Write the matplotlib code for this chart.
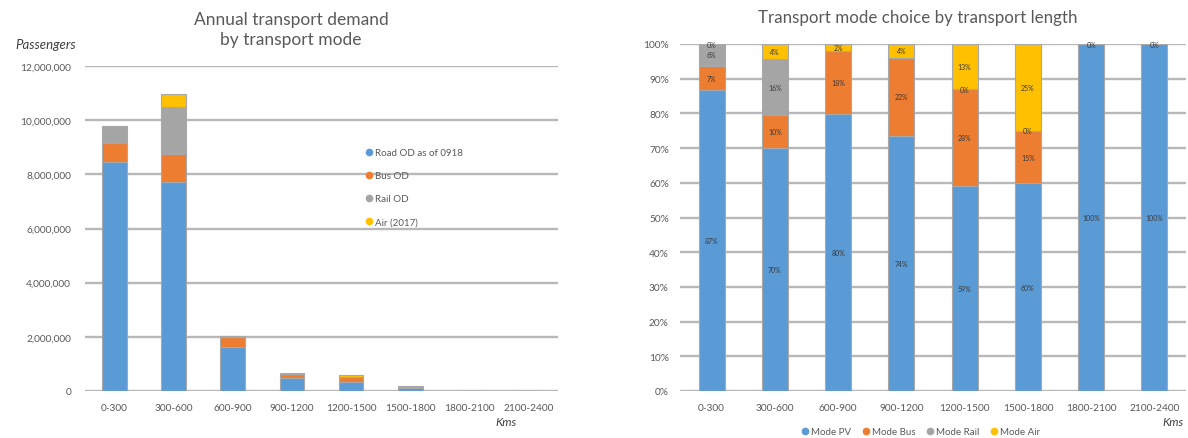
import matplotlib
matplotlib.use("Agg")
import matplotlib.pyplot as plt
from matplotlib.lines import Line2D
from matplotlib.ticker import FuncFormatter, MultipleLocator
import numpy as np

plt.rcParams['font.family'] = ['Lato', 'DejaVu Sans']

# Distance bands (km)
bands = ["0-300", "300-600", "600-900", "900-1200", "1200-1500",
         "1500-1800", "1800-2100", "2100-2400"]

# Annual passengers per mode
road_od = [8450000, 7700000, 1620000, 485000, 350000, 120000, 10000, 5000]
bus_od = [720000, 1050000, 380000, 145000, 165000, 30000, 0, 0]
rail_od = [620000, 1730000, 10000, 3000, 0, 2000, 0, 0]
air_od = [0, 470000, 30000, 27000, 78000, 50000, 0, 0]

# Mode share (%) per distance band
mode_pv = [86.7, 70.0, 79.8, 73.5, 59.0, 59.8, 100.0, 100.0]
mode_bus = [7.0, 9.5, 18.2, 22.5, 28.0, 15.2, 0.0, 0.0]
mode_rail = [6.3, 16.2, 0.0, 0.0, 0.0, 0.0, 0.0, 0.0]
mode_air = [0.0, 4.3, 2.0, 4.0, 13.0, 25.0, 0.0, 0.0]

BLUE, ORANGE, GREY, GOLD = "#5B9BD5", "#ED7D31", "#A5A5A5", "#FFC000"
GRID = "#b8b8b8"
TXT = "#595959"
EDGE = "#a8a8a8"

W, H = 1188, 439
fig = plt.figure(figsize=(W / 100, H / 100), dpi=100)


def px_axes(x0, y0, x1, y1):
    return fig.add_axes([x0 / W, 1 - y1 / H, (x1 - x0) / W, (y1 - y0) / H])


def style(ax):
    for s in ax.spines.values():
        s.set_visible(False)
    ax.tick_params(length=0, colors=TXT, labelsize=7.3)
    ax.yaxis.grid(True, color=GRID, lw=1.7)
    ax.set_axisbelow(True)
    ax.set_xlim(-0.5, len(bands) - 0.5)


x = np.arange(len(bands))

# ---- Left: absolute demand ----
axL = px_axes(85, 67, 558, 392)
style(axL)
series_L = [(road_od, BLUE, "Road OD as of 0918"), (bus_od, ORANGE, "Bus OD"),
            (rail_od, GREY, "Rail OD"), (air_od, GOLD, "Air (2017)")]
bottom = np.zeros(len(bands))
for vals, col, lab in series_L:
    v = np.array(vals, dtype=float)
    axL.bar(x, v, 0.42, bottom=bottom, color=col, edgecolor=EDGE, linewidth=0.8, label=lab)
    bottom += v
axL.set_ylim(0, 12000000)
axL.yaxis.set_major_locator(MultipleLocator(2000000))
axL.yaxis.set_major_formatter(FuncFormatter(lambda v, p: f"{int(v):,}"))
axL.set_xticks(x, bands)
axL.tick_params(axis="y", pad=10)
axL.tick_params(axis="x", pad=9)
fig.text(291 / W, 1 - 30 / H, "Annual transport demand\nby transport mode",
         ha="center", va="center", fontsize=12.5, color=TXT, linespacing=1.25)
fig.text(46 / W, 1 - 45 / H, "Passengers", ha="center", va="center",
         fontsize=9.5, style="italic", color="#404040")
fig.text(506 / W, 1 - 423 / H, "Kms", ha="center", va="center",
         fontsize=8.5, style="italic", color="#404040")

handlesL = [Line2D([], [], ls="none", marker="o", ms=4.5, mfc=c, mec=c) for _, c, _ in series_L]
fig.legend(handlesL, [s[2] for s in series_L], loc="upper left",
           bbox_to_anchor=(366 / W, 1 - 149 / H), frameon=False, fontsize=7,
           labelcolor=TXT, handlelength=0.6, handletextpad=0.3, labelspacing=1.45,
           borderaxespad=0, borderpad=0)

# ---- Right: mode share ----
axR = px_axes(680, 45, 1186, 392)
style(axR)
series_R = [(mode_pv, BLUE, "Mode PV"), (mode_bus, ORANGE, "Mode Bus"),
            (mode_rail, GREY, "Mode Rail"), (mode_air, GOLD, "Mode Air")]
bottom = np.zeros(len(bands))
labels = [[] for _ in bands]  # (y, value) per bar
for vals, col, lab in series_R:
    v = np.array(vals, dtype=float)
    axR.bar(x, v, 0.41, bottom=bottom, color=col, edgecolor=EDGE, linewidth=0.8, label=lab)
    for i, (b, val) in enumerate(zip(bottom, v)):
        labels[i].append((b + val / 2, val))
    bottom += v

# Data labels; empty segments are only labelled where they do not collide
for i, items in enumerate(labels):
    placed = [y for y, val in items if val > 0]
    for y, val in items:
        if val == 0:
            if any(abs(y - p) < 2.5 for p in placed):
                continue
            placed.append(y)
        axR.text(x[i], y, f"{val:.0f}%", ha="center", va="center",
                 fontsize=5, color="#3a3a3a")

axR.set_ylim(0, 100)
axR.yaxis.set_major_locator(MultipleLocator(10))
axR.yaxis.set_major_formatter(FuncFormatter(lambda v, p: f"{int(round(v))}%"))
axR.set_xticks(x, bands)
axR.tick_params(axis="y", pad=8)
axR.tick_params(axis="x", pad=9)
fig.text(918 / W, 1 - 18 / H, "Transport mode choice by transport length",
         ha="center", va="center", fontsize=12.2, color=TXT)
fig.text(1173 / W, 1 - 423 / H, "Kms", ha="center", va="center",
         fontsize=8.5, style="italic", color="#404040")

handlesR = [Line2D([], [], ls="none", marker="o", ms=4.5, mfc=c, mec=c) for _, c, _ in series_R]
fig.legend(handlesR, [s[2] for s in series_R], loc="center",
           bbox_to_anchor=(921 / W, 1 - 433 / H), ncol=4, frameon=False, fontsize=7,
           labelcolor=TXT, handlelength=0.6, handletextpad=0.3, columnspacing=1.2,
           borderaxespad=0, borderpad=0)

fig.savefig("out.png", dpi=100, facecolor="white")
